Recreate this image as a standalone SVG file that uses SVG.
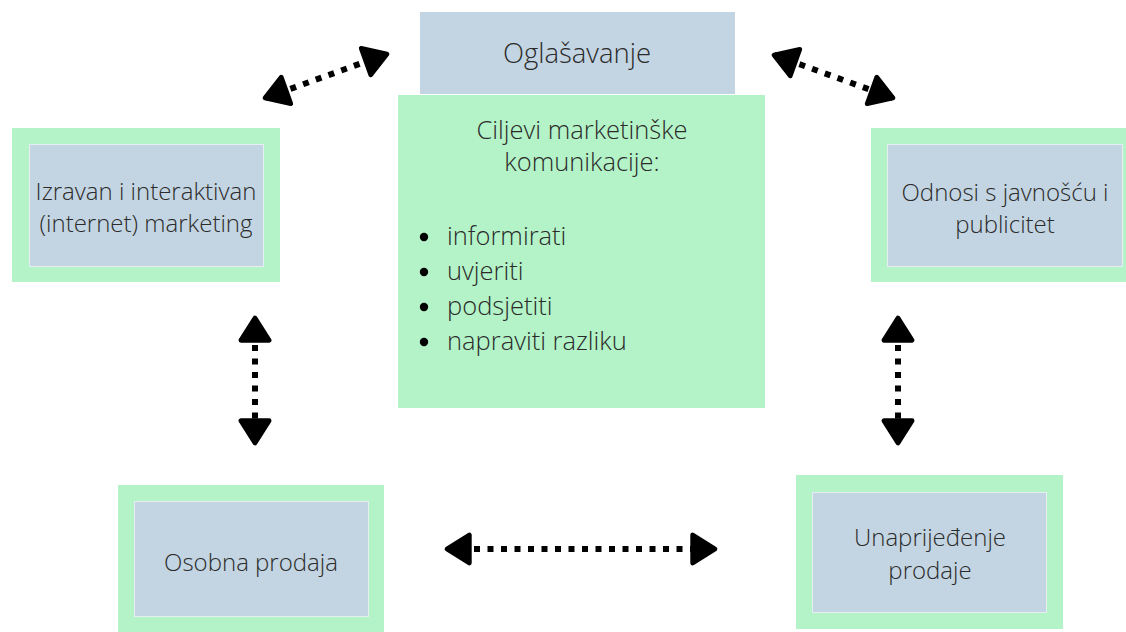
<svg xmlns="http://www.w3.org/2000/svg" width="1126" height="632" viewBox="0 0 1126 632">
<defs>
<style>
.outer{fill:#b3f3c7}
.inner{fill:#c3d5e2;stroke:#e6eef2;stroke-width:1}
.t{font-family:"Open Sans","Noto Sans",sans-serif;font-weight:300;font-size:24px;fill:#2b2b2b;text-anchor:middle}
.cb{font-size:25.5px}
.l{font-family:"Open Sans","Noto Sans",sans-serif;font-weight:300;font-size:25.5px;fill:#2b2b2b}
.c{fill:none;stroke:#000;stroke-width:6;stroke-dasharray:6 7.5;marker-start:url(#ah);marker-end:url(#ah)}
</style>
<marker id="ah" markerUnits="userSpaceOnUse" markerWidth="40" markerHeight="40" viewBox="-4 -17 30 34" refX="19" refY="0" orient="auto-start-reverse">
<path d="M0,-12 L19,0 L0,12 Z" fill="#000" stroke="#000" stroke-width="4" stroke-linejoin="round"/>
</marker>
</defs>
<rect width="1126" height="632" fill="#fff"/>
<g id="connectors">
<line class="c" x1="265" y1="98" x2="387" y2="54"/>
<line class="c" x1="774" y1="55" x2="893" y2="98"/>
<line class="c" x1="255" y1="318" x2="255" y2="443"/>
<line class="c" x1="898" y1="318" x2="898" y2="443"/>
<line class="c" x1="447" y1="549" x2="715" y2="549"/>
</g>
<g id="oglasavanje">
<rect x="420" y="12" width="315" height="82" fill="#c3d5e2"/>
<text class="t" x="577" y="63" style="font-size:27.5px">Oglašavanje</text>
</g>
<g id="ciljevi">
<rect x="398" y="95" width="367" height="313" fill="#b3f3c7"/>
<text class="t cb" x="582" y="139">Ciljevi marketinške</text>
<text class="t cb" x="582" y="171">komunikacije:</text>
<circle cx="424" cy="237" r="4.2" fill="#000"/>
<circle cx="424" cy="272" r="4.2" fill="#000"/>
<circle cx="424" cy="307" r="4.2" fill="#000"/>
<circle cx="424" cy="342" r="4.2" fill="#000"/>
<text class="l" x="447" y="245">informirati</text>
<text class="l" x="447" y="280">uvjeriti</text>
<text class="l" x="447" y="315">podsjetiti</text>
<text class="l" x="447" y="350">napraviti razliku</text>
</g>
<g id="izravan">
<rect class="outer" x="12" y="128" width="268" height="154"/>
<rect class="inner" x="29.5" y="144.5" width="234" height="122"/>
<text class="t" x="146" y="200">Izravan i interaktivan</text>
<text class="t" x="146" y="232">(internet) marketing</text>
</g>
<g id="odnosi">
<rect class="outer" x="871" y="128" width="260" height="154"/>
<rect class="inner" x="887.5" y="144.5" width="235" height="122"/>
<text class="t" x="1005" y="201">Odnosi s javnošću i</text>
<text class="t" x="1005" y="233">publicitet</text>
</g>
<g id="osobna">
<rect class="outer" x="118" y="485" width="266" height="150"/>
<rect class="inner" x="134.5" y="501.5" width="234" height="115"/>
<text class="t" x="251" y="571">Osobna prodaja</text>
</g>
<g id="unaprijedjenje">
<rect class="outer" x="796" y="475" width="267" height="154"/>
<rect class="inner" x="812.5" y="492.5" width="234" height="120"/>
<text class="t" x="930" y="546">Unaprijeđenje</text>
<text class="t" x="930" y="579">prodaje</text>
</g>
</svg>
